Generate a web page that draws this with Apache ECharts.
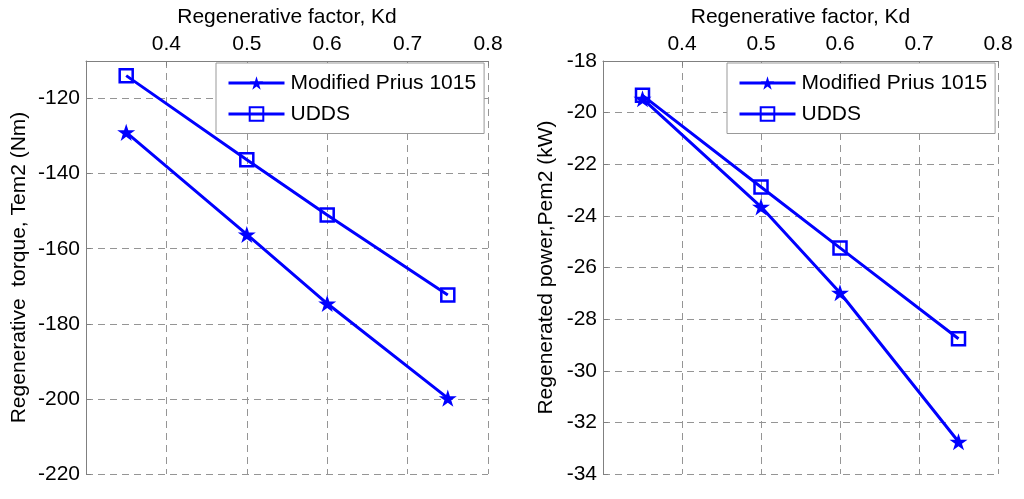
<!DOCTYPE html>
<html>
<head>
<meta charset="utf-8">
<script src="https://cdn.jsdelivr.net/npm/echarts@6/dist/echarts.min.js"></script>
<style>
  html, body { margin: 0; padding: 0; background: #fff; }
  #chart { width: 1024px; height: 499px; }
</style>
</head>
<body>
<div id="chart"></div>
<script>
// ---- data ----
const kd = [0.35, 0.5, 0.6, 0.75];
const torquePrius = [-129, -156.2, -174.6, -199.8];
const torqueUDDS = [-113.9, -136.3, -151, -172.3];
const powerPrius = [-19.46, -23.65, -26.98, -32.75];
const powerUDDS = [-19.33, -22.88, -25.24, -28.76];
const seriesNames = ['Modified Prius 1015', 'UDDS'];
const xTitle = 'Regenerative factor, Kd';
const yTitleLeft = 'Regenerative  torque, Tem2 (Nm)';
const yTitleRight = 'Regenerated power,Pem2 (kW)';

const zip = (xs, ys) => xs.map((x, i) => [x, ys[i]]);

const FONT = "'Liberation Sans', Arial, sans-serif";
const FS = 21;
const BLUE = '#0000ff';
const AXIS_GRAY = '#808080';
const GRID_GRAY = '#959595';
const STAR = 'path://M50,0L61.23,34.55L97.55,34.55L68.17,55.9L79.39,90.45L50,69.1L20.61,90.45L31.83,55.9L2.45,34.55L38.77,34.55Z';

function xAxis(gridIndex) {
  return {
    gridIndex, type: 'value', position: 'top',
    min: 0.3, max: 0.8, interval: 0.1,
    name: xTitle, nameLocation: 'middle', nameGap: 33,
    nameTextStyle: { color: '#000', fontSize: FS, fontFamily: FONT },
    axisLine: { show: true, onZero: false, lineStyle: { color: AXIS_GRAY, width: 1 } },
    axisTick: { show: true, inside: true, length: 5, lineStyle: { color: AXIS_GRAY } },
    axisLabel: { color: '#000', fontSize: FS, fontFamily: FONT, margin: 6, showMinLabel: false },
    splitLine: { show: true, lineStyle: { color: GRID_GRAY, type: [7, 5], width: 1 } }
  };
}
function yAxis(gridIndex, min, max, interval, name, nameGap, showMax) {
  return {
    gridIndex, type: 'value', position: 'left',
    min, max, interval,
    name, nameLocation: 'middle', nameGap,
    nameTextStyle: { color: '#000', fontSize: FS, fontFamily: FONT },
    axisLine: { show: true, onZero: false, lineStyle: { color: AXIS_GRAY, width: 1 } },
    axisTick: { show: true, inside: true, length: 5, lineStyle: { color: AXIS_GRAY } },
    axisLabel: { color: '#000', fontSize: FS, fontFamily: FONT, margin: 6, showMaxLabel: showMax },
    splitLine: { show: true, lineStyle: { color: GRID_GRAY, type: [7, 5], width: 1 } }
  };
}
function starSeries(idx, data) {
  return {
    name: seriesNames[0], type: 'line', xAxisIndex: idx, yAxisIndex: idx,
    data, symbol: STAR, symbolSize: 18, symbolKeepAspect: true, showAllSymbol: true,
    lineStyle: { color: BLUE, width: 3 },
    itemStyle: { color: BLUE, borderWidth: 0 },
    emphasis: { disabled: true }, animation: false, z: 3
  };
}
function squareSeries(idx, data) {
  return {
    name: seriesNames[1], type: 'line', xAxisIndex: idx, yAxisIndex: idx,
    data, symbol: 'rect', symbolSize: 13, showAllSymbol: true,
    lineStyle: { color: BLUE, width: 3 },
    itemStyle: { color: 'rgba(255,255,255,0)', borderColor: BLUE, borderWidth: 2.5 },
    emphasis: { disabled: true }, animation: false, z: 3
  };
}
function legend(left) {
  return {
    orient: 'vertical', left, top: 63,
    data: seriesNames,
    itemWidth: 56, itemHeight: 17, itemGap: 10,
    padding: [9.5, 8, 9, 11],
    backgroundColor: '#fff', borderColor: '#999', borderWidth: 1,
    lineStyle: { width: 3, color: BLUE },
    textStyle: { color: '#000', fontSize: FS, fontFamily: FONT, padding: [0, 0, 0, 1] },
    selectedMode: false
  };
}

const chart = echarts.init(document.getElementById('chart'), null, { renderer: 'canvas' });
chart.setOption({
  backgroundColor: '#fff',
  animation: false,
  grid: [
    { left: 86, right: 536, top: 61, bottom: 25 },
    { left: 603, right: 26, top: 61, bottom: 25 }
  ],
  xAxis: [xAxis(0), xAxis(1)],
  yAxis: [
    yAxis(0, -220, -110, 20, yTitleLeft, 56, false),
    yAxis(1, -34, -18, 2, yTitleRight, 46, true)
  ],
  legend: [legend(216), legend(727)],
  series: [
    starSeries(0, zip(kd, torquePrius)),
    squareSeries(0, zip(kd, torqueUDDS)),
    starSeries(1, zip(kd, powerPrius)),
    squareSeries(1, zip(kd, powerUDDS))
  ]
});
</script>
</body>
</html>
